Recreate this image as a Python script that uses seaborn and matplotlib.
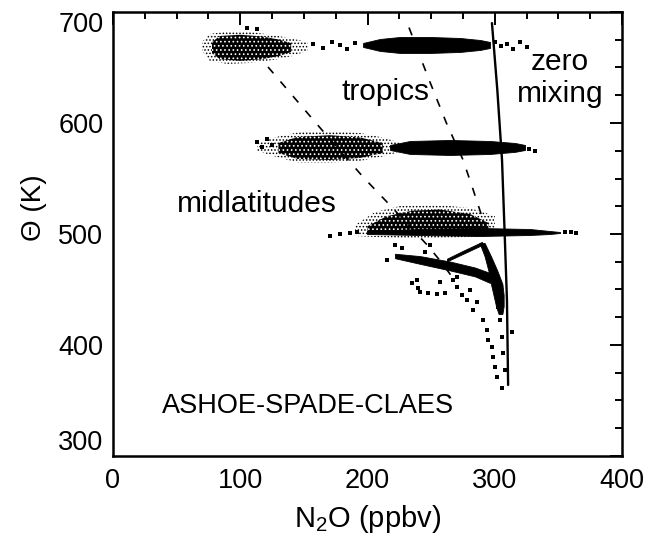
import matplotlib
matplotlib.use("Agg")
import matplotlib.pyplot as plt
from matplotlib.ticker import MultipleLocator
import seaborn as sns

# ---------------- data ----------------
# reference curves
zero_mix_n2o = [310.5, 309.6, 307.8, 305.7, 302.0, 297.8]
zero_mix_theta = [364, 440, 500, 567, 630, 690]
tropics_n2o = [232.6, 248, 262, 275, 283, 293]
tropics_theta = [686, 640, 600, 567, 540, 505]
midlat_n2o = [121.8, 164.2, 196.5, 215.3, 247, 257, 270]
midlat_theta = [650.5, 593.7, 551.4, 528.8, 490, 476, 456]

# midlatitude clouds: outer envelope and dense core (N2O, theta low, theta high)
m700_n2o = [70.0, 76.0, 90.0, 108.0, 127.3, 141.0, 153.0]
m700_lo = [665.0, 656.0, 653.2, 654.1, 657.0, 660.4, 665.0]
m700_hi = [673.0, 680.2, 682.5, 682.0, 679.0, 676.0, 673.0]
m700c_n2o = [77.8, 84.0, 100.0, 117.0, 131.0, 140.0]
m700c_lo = [663.0, 657.5, 656.0, 657.5, 660.5, 664.0]
m700c_hi = [673.0, 678.4, 679.5, 678.0, 675.0, 672.0]

m580_n2o = [113.2, 131.2, 147.0, 170.5, 194.1, 213.8, 225.5]
m580_lo = [574.8, 568.5, 564.0, 564.0, 565.8, 570.3, 574.0]
m580_hi = [582.0, 588.3, 591.9, 592.8, 591.0, 586.5, 582.0]
m580c_n2o = [130.0, 145.0, 170.5, 194.1, 212.0]
m580c_lo = [573.0, 567.6, 566.7, 568.5, 573.0]
m580c_hi = [582.0, 587.4, 589.0, 587.0, 582.0]

m505_n2o = [190.2, 205.9, 225.5, 257.0, 280.6, 300.2]
m505_lo = [498.2, 497.3, 496.4, 496.4, 497.3, 498.2]
m505_hi = [508.1, 519.8, 525.2, 526.1, 523.4, 516.2]
m505c_n2o = [200.0, 215.0, 235.0, 257.0, 280.6, 295.0]
m505c_lo = [500.0, 500.0, 500.0, 500.0, 500.0, 500.0]
m505c_hi = [507.0, 516.0, 521.0, 522.0, 518.0, 510.0]

# tropical clouds (dense)
t700_n2o = [196.5, 209.8, 225.5, 249.1, 272.7, 288.4, 296.3]
t700_lo = [668.5, 664.9, 663.1, 663.1, 664.0, 665.8, 667.6]
t700_hi = [672.1, 675.7, 677.5, 677.5, 676.6, 674.8, 673.0]
t580_n2o = [217.7, 233.4, 264.8, 296.3, 315.9, 323.8]
t580_lo = [575.7, 572.1, 571.2, 572.1, 574.0, 575.7]
t580_hi = [580.2, 583.8, 584.7, 583.8, 582.0, 580.2]
t505_n2o = [199.6, 241.3, 288.4, 327.7, 343.4, 351.3]
t505_lo = [500.0, 499.1, 498.2, 499.1, 500.0, 500.9]
t505_hi = [502.7, 504.5, 505.4, 504.5, 502.7, 501.8]

# lower-stratosphere streaks
streak_a_n2o = [221.6, 241.3, 264.8, 284.5, 296.3]
streak_a_lo = [478.2, 473.1, 467.2, 461.8, 455.9]
streak_a_hi = [482.2, 480.1, 475.2, 469.8, 464.9]
streak_b_n2o = [262.5, 276.0, 290.0]
streak_b_lo = [475.4, 482.6, 490.1]
streak_b_hi = [477.8, 485.4, 492.9]
wedge_theta = [492, 480, 467, 455, 445, 435, 428]
wedge_n2o_lo = [288, 292, 295, 297, 299, 301, 303]
wedge_n2o_hi = [292, 297, 302, 306, 307, 307, 306]

# scattered individual measurements
dots_n2o = [235.0, 239.7, 241.3, 247.5, 254.6, 260.9, 257.0, 267.2, 270.3, 274.3,
            278.2, 280.6, 282.9, 286.1, 290.8, 293.9, 294.7, 297.8, 298.6, 300.2,
            301.8, 305.7, 302.6, 304.1, 305.7, 306.5, 308.1, 313.6,
            221.6, 227.1, 215.3, 249.1, 245.2, 238.9, 270.3,
            157, 165, 172, 178, 184, 190, 300, 305, 310, 314, 319.8, 325.3,
            327, 332, 113, 117, 121, 125, 170.5, 178.4, 186.2, 192,
            355, 360, 364, 105, 113]
dots_theta = [455.9, 451.4, 447.7, 446.8, 445.9, 446.8, 456.8, 458.6, 452.3, 445.0,
              440.5, 449.5, 431.5, 438.7, 422.5, 413.5, 404.5, 398.2, 389.2, 380.2,
              371.2, 361.3, 434.2, 422.5, 407.2, 392.8, 377.5, 411.7,
              490.1, 487.4, 476.6, 490.1, 483.8, 458.6, 461.3,
              671, 668, 673, 670, 667, 672, 673, 669, 671, 667, 673, 668.5,
              577, 575, 583, 578, 586, 580, 498.2, 500, 500.9, 501.5,
              501.5, 502, 501, 686, 685]

x_ticks = [0, 100, 200, 300, 400]
y_ticks = [300, 400, 500, 600, 700]

# ---------------- styling ----------------
sns.set_theme(style="white", rc={"axes.edgecolor": "black", "text.color": "black",
                                 "xtick.color": "black", "ytick.color": "black",
                                 "axes.labelcolor": "black"})
plt.rcParams['font.family'] = ['Liberation Sans', 'DejaVu Sans']
plt.rcParams['mathtext.default'] = 'regular'
plt.rcParams['hatch.linewidth'] = 0.7

fig = plt.figure(figsize=(6.46, 5.47), dpi=100)
ax = fig.add_axes([113 / 646, 91 / 547, 509 / 646, 444 / 547])


def fringe(n, lo, hi):
    ax.fill_between(n, lo, hi, facecolor='white', edgecolor='black',
                    hatch='.....', linewidth=0, zorder=2)


def core(n, lo, hi):
    ax.fill_between(n, lo, hi, facecolor='black', edgecolor='white',
                    hatch='....', linewidth=0, zorder=2)


def solid(n, lo, hi):
    ax.fill_between(n, lo, hi, facecolor='black', edgecolor='black',
                    linewidth=0.6, zorder=2)


for n, lo, hi in [(m700_n2o, m700_lo, m700_hi), (m580_n2o, m580_lo, m580_hi),
                  (m505_n2o, m505_lo, m505_hi)]:
    fringe(n, lo, hi)
for n, lo, hi in [(m700c_n2o, m700c_lo, m700c_hi), (m580c_n2o, m580c_lo, m580c_hi),
                  (m505c_n2o, m505c_lo, m505c_hi)]:
    core(n, lo, hi)
for n, lo, hi in [(t700_n2o, t700_lo, t700_hi), (t580_n2o, t580_lo, t580_hi),
                  (t505_n2o, t505_lo, t505_hi), (streak_a_n2o, streak_a_lo, streak_a_hi),
                  (streak_b_n2o, streak_b_lo, streak_b_hi)]:
    solid(n, lo, hi)
ax.fill_betweenx(wedge_theta, wedge_n2o_lo, wedge_n2o_hi, facecolor='black',
                 edgecolor='black', linewidth=0.6, zorder=2)

sns.scatterplot(x=dots_n2o, y=dots_theta, s=6.5, marker='s', color='black',
                linewidth=0, ax=ax, zorder=3)

sns.lineplot(x=zero_mix_n2o, y=zero_mix_theta, sort=False, estimator=None,
             color='black', linewidth=1.7, ax=ax, zorder=4)
sns.lineplot(x=tropics_n2o, y=tropics_theta, sort=False, estimator=None,
             color='black', linewidth=1.2, linestyle=(0, (5, 6.5)), ax=ax, zorder=4)
sns.lineplot(x=midlat_n2o, y=midlat_theta, sort=False, estimator=None,
             color='black', linewidth=1.2, linestyle=(0, (5, 6.5)), ax=ax, zorder=4)

# axes
ax.set_xlim(0, 400)
ax.set_ylim(300, 700)
ax.xaxis.set_minor_locator(MultipleLocator(25))
ax.yaxis.set_minor_locator(MultipleLocator(25))
ax.set_xticks(x_ticks)
ax.set_yticks(y_ticks)
ax.tick_params(which='both', direction='in', top=True, right=True, width=1.4,
               color='black')
ax.tick_params(which='major', length=9)
ax.tick_params(which='minor', length=5)
ax.tick_params(axis='x', which='major', labelsize=19.5, pad=9)
ax.tick_params(axis='y', which='major', labelsize=19.5, pad=7)
for sp in ax.spines.values():
    sp.set_linewidth(1.8)
    sp.set_color('black')
    sp.set_visible(True)

ylabels = ax.get_yticklabels()
ylabels[0].set_verticalalignment('bottom')
ylabels[-1].set_verticalalignment('top')

ax.set_xlabel('N$_2$O (ppbv)', fontsize=21)
ax.xaxis.set_label_coords(0.5, -0.105)
ax.set_ylabel('Θ (K)', fontsize=20)
ax.yaxis.set_label_coords(-0.13, 0.56)

ax.text(214.5, 620.7, 'tropics', fontsize=21.5, ha='center', va='baseline', zorder=5)
ax.text(351.5, 647.7, 'zero', fontsize=21.5, ha='center', va='baseline', zorder=5)
ax.text(351.5, 618.9, 'mixing', fontsize=21.5, ha='center', va='baseline', zorder=5)
ax.text(112.8, 519.8, 'midlatitudes', fontsize=21.5, ha='center', va='baseline', zorder=5)
ax.text(153.2, 338.7, 'ASHOE-SPADE-CLAES', fontsize=19.5, ha='center',
        va='baseline', zorder=5)

fig.savefig('out.png', dpi=100, facecolor='white')
